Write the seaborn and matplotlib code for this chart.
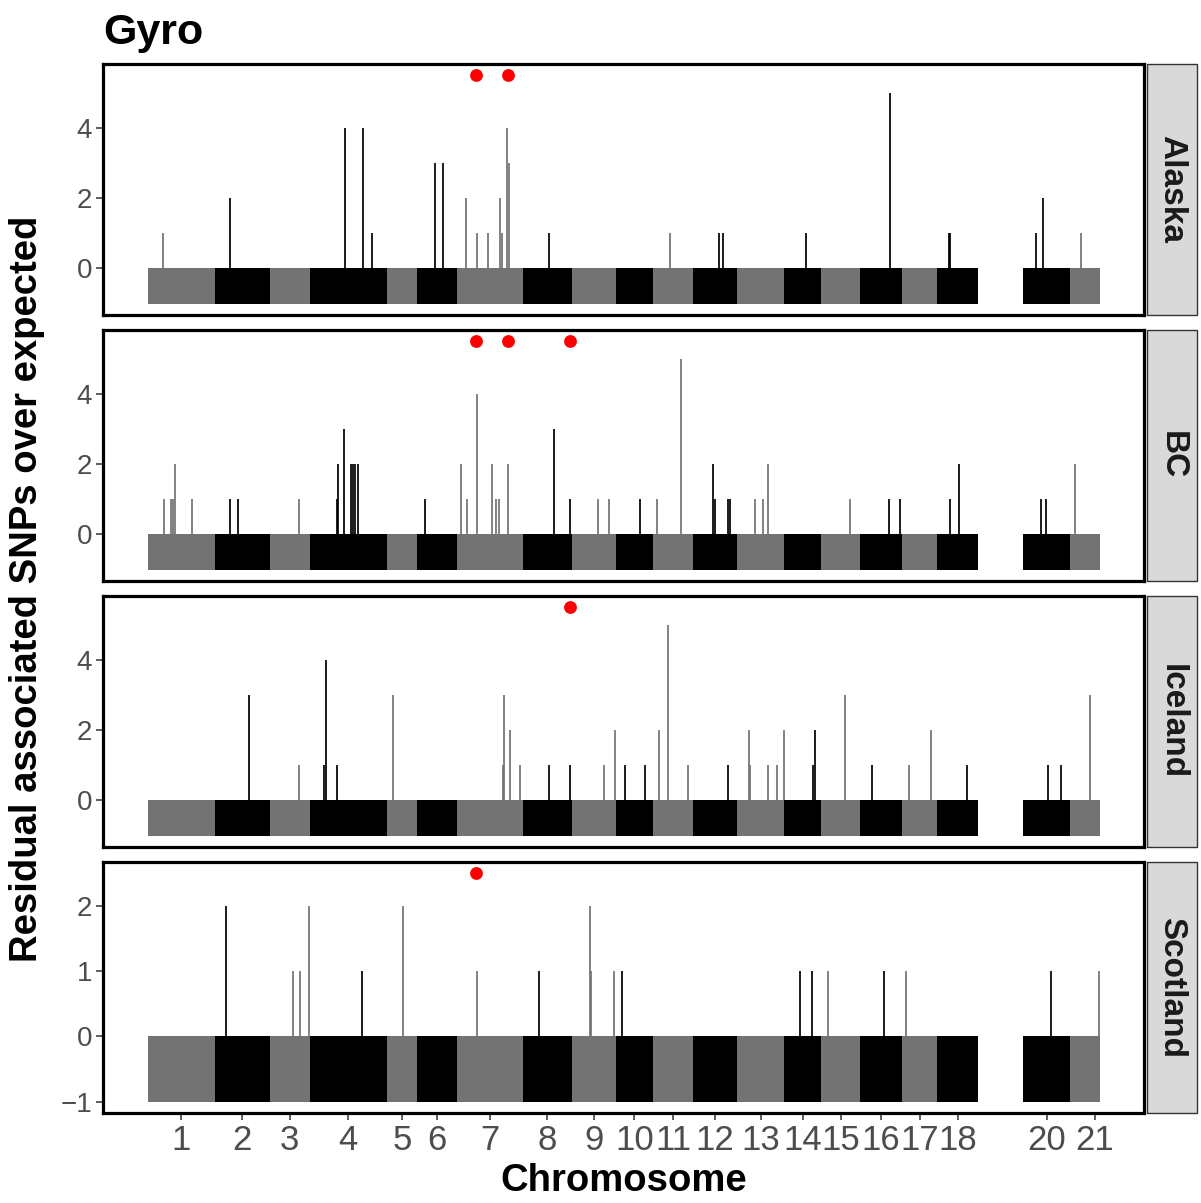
import numpy as np
import pandas as pd
import matplotlib
matplotlib.use("Agg")
import matplotlib.pyplot as plt
from matplotlib.patches import Rectangle
from matplotlib.ticker import MaxNLocator
import seaborn as sns

# ---------------- data ----------------
chrom_ids = list(range(1, 22))
# chromosome lengths (Mb) and the part of each chromosome covered by windows
chrom_len = [67, 55, 40, 77, 30, 40, 66, 49, 44, 37, 40, 44, 47, 37, 39, 42, 35, 41, 45, 47, 49]
chrom_win_len = [67, 55, 40, 77, 30, 40, 66, 49, 44, 37, 40, 44, 47, 37, 39, 42, 35, 41, 0, 47, 30]

populations = ["Alaska", "BC", "Iceland", "Scotland"]

alaska_chr = [1, 2, 4, 4, 4, 6, 6, 7, 7, 7, 7, 7, 7, 7, 8, 11, 12, 12, 14, 16, 18, 18, 20, 20, 21]
alaska_pos = [15.5, 15.5, 35.3, 53.2, 62.3, 18, 26.2, 8.6, 19.8, 31.4, 43, 45.5, 50, 51.8, 25.8,
              16.6, 25.9, 30.2, 22.4, 30.4, 11.5, 13, 12.4, 19.5, 10.7]
alaska_val = [1, 2, 4, 4, 1, 3, 3, 2, 1, 1, 2, 1, 4, 3, 1, 1, 1, 1, 1, 5, 1, 1, 1, 2, 1]
alaska_sig_chr = [7, 7]
alaska_sig_pos = [19.5, 51]

bc_chr = [1, 1, 1, 1, 1, 2, 2, 3, 4, 4, 4, 4, 4, 4, 4, 6, 7, 7, 7, 7, 7, 7, 7, 8, 8, 9, 9, 10,
          11, 11, 12, 12, 12, 12, 13, 13, 13, 15, 16, 16, 18, 18, 20, 20, 21]
bc_pos = [16.6, 23.6, 25, 27.1, 44.3, 15.5, 23.6, 29, 27.5, 28.6, 34.6, 41.6, 43.3, 45.1, 47.9,
          8.6, 4.4, 9.7, 20.2, 35, 39.5, 42.3, 51.4, 31.4, 46.8, 25.9, 36.8, 23.6,
          4.1, 27.7, 20.2, 22, 34.5, 37, 18.4, 26.2, 30.5, 29.4, 28.6, 40, 12.6, 22.3, 17.7, 22.4, 5]
bc_val = [1, 1, 1, 2, 1, 1, 1, 1, 1, 2, 3, 2, 2, 2, 2, 1, 2, 1, 4, 2, 1, 1, 2, 3, 1, 1, 1, 1,
          1, 5, 2, 1, 1, 1, 1, 1, 2, 1, 1, 1, 1, 2, 1, 1, 2]
bc_sig_chr = [7, 7, 8]
bc_sig_pos = [19.5, 51, 47]

iceland_chr = [2, 3, 4, 4, 4, 5, 7, 7, 7, 7, 8, 8, 9, 9, 10, 10, 11, 11, 11, 12, 13, 13, 13, 13, 13,
               14, 14, 15, 16, 17, 17, 18, 20, 20, 21]
iceland_pos = [34.1, 28.9, 14.6, 16, 26.8, 6, 46.5, 47.2, 53.2, 62.6, 25.8, 46.8, 31.9, 43.5, 9.3, 29.4,
               6.3, 15.2, 35.2, 35.2, 11.6, 13, 31.2, 39.8, 46.5, 28.9, 30.6, 23.6, 12.1, 7.3, 28.7,
               29.4, 24.5, 37.7, 20]
iceland_val = [3, 1, 1, 4, 1, 3, 1, 3, 2, 1, 1, 1, 1, 2, 1, 1, 2, 5, 1, 1, 2, 1, 1, 1, 2,
               1, 2, 3, 1, 1, 2, 1, 1, 1, 3]
iceland_sig_chr = [8]
iceland_sig_pos = [47]

scotland_chr = [2, 3, 3, 3, 4, 5, 7, 8, 9, 9, 9, 10, 14, 14, 15, 16, 17, 20, 21]
scotland_pos = [11.3, 23, 30.4, 39.6, 52.1, 16.5, 19.8, 15.9, 18.5, 19.2, 42, 5.8, 16, 27.8, 6.5,
                24.3, 4, 27.7, 28.9]
scotland_val = [2, 1, 1, 2, 1, 2, 1, 1, 2, 1, 1, 1, 1, 1, 1, 1, 1, 1, 1]
scotland_sig_chr = [7]
scotland_sig_pos = [19.5]

spike_data = {
    "Alaska": (alaska_chr, alaska_pos, alaska_val, alaska_sig_chr, alaska_sig_pos),
    "BC": (bc_chr, bc_pos, bc_val, bc_sig_chr, bc_sig_pos),
    "Iceland": (iceland_chr, iceland_pos, iceland_val, iceland_sig_chr, iceland_sig_pos),
    "Scotland": (scotland_chr, scotland_pos, scotland_val, scotland_sig_chr, scotland_sig_pos),
}

# ---------------- style ----------------
sns.set_theme(style="white")
plt.rcParams['font.family'] = ['Liberation Sans', 'DejaVu Sans']

GREY = "#737373"
BLACK = "#000000"

chrom_start = np.concatenate([[0], np.cumsum(chrom_len)[:-1]])
start_of = dict(zip(chrom_ids, chrom_start))
len_of = dict(zip(chrom_ids, chrom_len))
win_of = dict(zip(chrom_ids, chrom_win_len))
col_of = {c: (GREY if c % 2 == 1 else BLACK) for c in chrom_ids}

data_chroms = [c for c in chrom_ids if win_of[c] > 0]
x_min = start_of[data_chroms[0]]
x_max = start_of[data_chroms[-1]] + win_of[data_chroms[-1]]
span = x_max - x_min
xlim = (x_min - 0.047 * span, x_max + 0.046 * span)

W, H = 1201, 1203
fig = plt.figure(figsize=(W / 100, H / 100), dpi=100)

left_px, right_px = 103, 1144
panel_h = 251
tops = [64, 330, 596, 862]

for i, pop in enumerate(populations):
    top = tops[i]
    ax = fig.add_axes([left_px / W, 1 - (top + panel_h) / H, (right_px - left_px) / W, panel_h / H])
    cchr, cpos, cval, schr, spos = spike_data[pop]

    # base band (-1 .. 0) over the windowed part of each chromosome
    band = pd.DataFrame({"chr": data_chroms})
    band["start"] = band["chr"].map(start_of)
    band["len"] = band["chr"].map(win_of)
    ax.bar(band["start"], 1.0, bottom=-1.0, width=band["len"], align="edge",
           color=[col_of[c] for c in band["chr"]], linewidth=0)

    df = pd.DataFrame({"chr": cchr, "pos": cpos, "val": cval})
    df["x"] = df["chr"].map(start_of) + df["pos"]
    ax.vlines(df["x"], 0, df["val"], colors=[col_of[c] for c in df["chr"]], linewidth=1.25)

    ytop = df["val"].max() + 0.5
    sig = pd.DataFrame({"chr": schr, "pos": spos})
    sig["x"] = sig["chr"].map(start_of) + sig["pos"]
    sig["y"] = ytop
    sns.scatterplot(data=sig, x="x", y="y", color="#FF0000", s=85, linewidth=0,
                    legend=False, ax=ax, zorder=5)

    ylo, yhi = -1.0, ytop
    ext = 0.05 * (yhi - ylo)
    ax.set_ylim(ylo - ext, yhi + ext)
    ax.set_xlim(*xlim)
    ax.yaxis.set_major_locator(MaxNLocator(nbins=4, steps=[1, 2, 5, 10]))
    ax.set_xlabel("")
    ax.set_ylabel("")

    for s in ax.spines.values():
        s.set_visible(True)
        s.set_color("black")
        s.set_linewidth(2.3)

    ax.tick_params(axis="y", length=5, width=1.1, color="#333333", labelcolor="#4D4D4D",
                   labelsize=20, pad=3, left=True)
    if i == len(populations) - 1:
        centers = [start_of[c] + len_of[c] / 2 for c in data_chroms]
        ax.set_xticks(centers)
        ax.set_xticklabels([str(c) for c in data_chroms])
        ax.tick_params(axis="x", length=5, width=1.1, color="#333333", labelcolor="#4D4D4D",
                       labelsize=25, pad=3, bottom=True)
    else:
        ax.set_xticks([])

    # facet strip on the right
    strip = Rectangle(((right_px + 3) / W, 1 - (top + panel_h) / H), 50 / W, panel_h / H,
                      transform=fig.transFigure, facecolor="#D9D9D9", edgecolor="#333333",
                      linewidth=1.0, zorder=1)
    fig.patches.append(strip)
    fig.text((right_px + 28) / W, 1 - (top + panel_h / 2) / H, pop, rotation=270,
             ha="center", va="center", fontsize=24, fontweight="bold", color="#1A1A1A")

fig.text(103 / W, 1 - 44 / H, "Gyro", fontsize=31, fontweight="bold", ha="left",
         va="baseline", color="black")
fig.text(27 / W, 1 - 589 / H, "Residual associated SNPs over expected", rotation=90,
         ha="center", va="center", fontsize=27.5, fontweight="bold", color="black")
fig.text((left_px + right_px) / 2 / W, 1 - 1191 / H, "Chromosome", ha="center",
         va="baseline", fontsize=27.5, fontweight="bold", color="black")

fig.savefig("out.png", dpi=100, facecolor="white")
